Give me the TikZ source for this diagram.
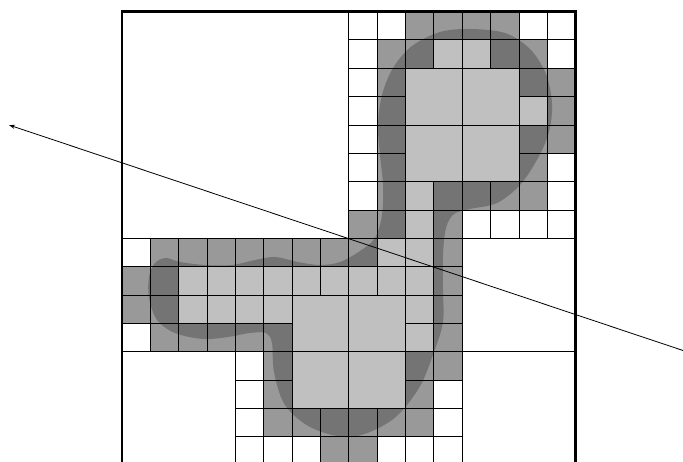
\documentclass[tikz,border=0pt]{standalone}
\usetikzlibrary{arrows.meta}
\definecolor{midgray}{gray}{0.6}
\definecolor{lightgray}{gray}{0.753}
\tikzset{
  gridline/.style={draw=black, line width=0.65pt},
  midcell/.style={fill=midgray},
  lightcell/.style={fill=lightgray, draw=black, line width=0.65pt},
  blobfill/.style={fill=black, fill opacity=0.24},
  frame/.style={draw=black, line width=2.6pt},
  ray/.style={draw=black, line width=0.8pt, -{Stealth[length=6pt,width=4pt]}}
}
\begin{document}
\begin{tikzpicture}[x=1pt, y=-1pt]
\useasboundingbox (0,0) rectangle (683,461);
\clip (0,0) rectangle (683,461);
\fill[white] (0,0) rectangle (683,461);
\begin{scope}[shift={(121.8,11.4)}, x=28.36pt, y=-28.36pt]
  % mid-gray boundary cells
  \foreach \c/\r in {10/0,11/0,12/0,13/0,
                     9/1,10/1,13/1,14/1,
                     9/2,14/2,15/2,
                     9/3,15/3,
                     9/4,14/4,15/4,
                     9/5,14/5,
                     9/6,11/6,12/6,13/6,14/6,
                     8/7,9/7,11/7,
                     1/8,2/8,3/8,4/8,5/8,6/8,7/8,8/8,11/8,
                     0/9,1/9,11/9,
                     0/10,1/10,11/10,
                     1/11,2/11,3/11,4/11,5/11,11/11,
                     5/12,10/12,11/12,
                     5/13,10/13,
                     5/14,6/14,7/14,8/14,9/14,10/14,
                     7/15,8/15}
    \path[midcell] (\c,\r) rectangle ++(1,1);
  % unit-cell grid lines
  \foreach \c in {8,...,15} \foreach \r in {0,...,7}
    \path[gridline] (\c,\r) rectangle ++(1,1);
  \foreach \c in {0,...,7} \foreach \r in {8,...,11}
    \path[gridline] (\c,\r) rectangle ++(1,1);
  \foreach \c in {4,...,7} \foreach \r in {12,...,15}
    \path[gridline] (\c,\r) rectangle ++(1,1);
  \foreach \c in {8,...,11} \foreach \r in {8,...,15}
    \path[gridline] (\c,\r) rectangle ++(1,1);
  % large empty cells
  \path[gridline] (0,0) rectangle (8,8);
  \path[gridline] (0,12) rectangle (4,16);
  \path[gridline] (12,8) rectangle (16,12);
  \path[gridline] (12,12) rectangle (16,16);
\end{scope}
% blob
\path[blobfill] plot[smooth cycle, tension=0.55] coordinates {
  (470,29) (505,33) (530,49) (546,74) (552,104) (549,132) (538,158)
  (520,185) (497,203) (470,209) (454,214) (446,228) (443,255) (443,290)
  (443,322) (434,352) (419,388) (392,420) (352,437) (312,428) (285,405)
  (274,372) (272,343) (266,333) (250,333) (228,337) (203,339) (175,333)
  (157,320) (149,298) (149,277) (155,263) (166,258) (180,262) (205,265)
  (232,265) (255,260) (275,257) (298,262) (320,265) (340,262) (360,251)
  (375,238) (382,215) (383,185) (380,155) (378,125) (382,95) (393,68)
  (412,46) (440,32)};
\begin{scope}[shift={(121.8,11.4)}, x=28.36pt, y=-28.36pt]
  % light-gray interior cells
  \foreach \c/\r in {11/1,12/1,14/3,10/6,10/7,9/8,10/8,
                     2/9,3/9,4/9,5/9,6/9,7/9,8/9,9/9,10/9,
                     2/10,3/10,4/10,5/10,10/10,10/11}
    \path[lightcell] (\c,\r) rectangle ++(1,1);
  \foreach \c/\r in {10/2,12/2,10/4,12/4,6/10,8/10,6/12,8/12}
    \path[lightcell] (\c,\r) rectangle ++(2,2);
  % outer frame
  \path[frame] (0,0) rectangle (16,16);
\end{scope}
% ray
\coordinate (raystart) at (683,350.5);
\coordinate (rayend) at (9,125);
\draw[ray] (raystart) -- (rayend);
\end{tikzpicture}
\end{document}
